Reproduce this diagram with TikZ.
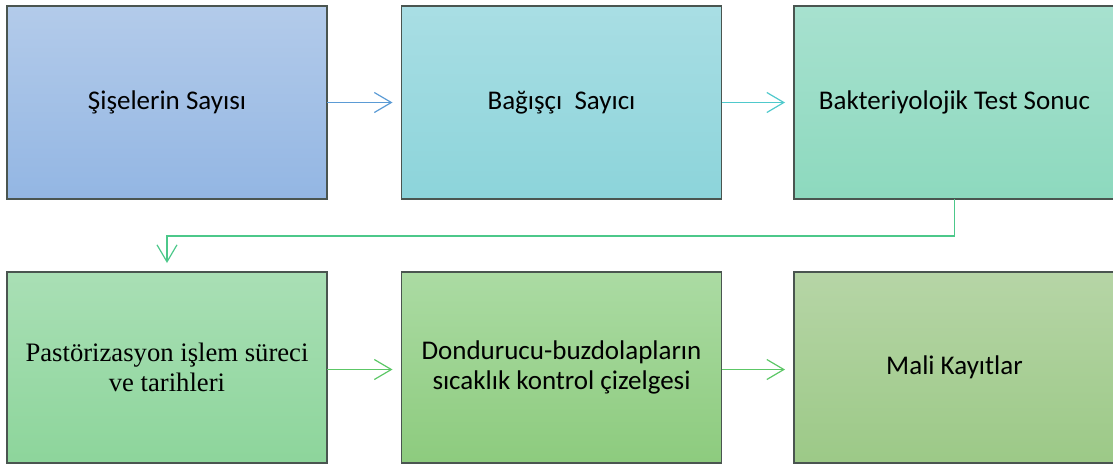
\documentclass[tikz,border=0pt]{standalone}
\usepackage{fontspec}
\setmainfont{Carlito}
\newfontfamily\timesf{Liberation Serif}
\usetikzlibrary{arrows.meta,shadings}
\definecolor{t1}{HTML}{B3CBEA}\definecolor{u1}{HTML}{93B6E3}
\definecolor{t2}{HTML}{A9DEE4}\definecolor{u2}{HTML}{8CD4DA}
\definecolor{t3}{HTML}{A7E1CF}\definecolor{u3}{HTML}{8DD9BE}
\definecolor{t4}{HTML}{A9DFB5}\definecolor{u4}{HTML}{8DD59B}
\definecolor{t5}{HTML}{ABDBA3}\definecolor{u5}{HTML}{8DCB7E}
\definecolor{t6}{HTML}{B6D5A6}\definecolor{u6}{HTML}{9CC987}
\definecolor{a1}{HTML}{5B9BD5}\definecolor{a2}{HTML}{4FC9CC}
\definecolor{a3}{HTML}{4CC88A}\definecolor{a4}{HTML}{5CC766}
\definecolor{bd}{HTML}{4A5550}
\begin{document}
\begin{tikzpicture}[x=0.75pt,y=-0.75pt,
  box/.style={draw=bd,line width=0.8pt,inner sep=0pt,outer sep=0pt,
    minimum width=240pt,align=center,
    font=\fontsize{20.25pt}{22.5pt}\selectfont},
  toprow/.style={box,minimum height=144.75pt},
  botrow/.style={box,minimum height=143.25pt},
  arr/.style={line width=0.9pt,-{Straight Barb[length=12.75pt,width=15pt]},shorten >=6.75pt}]
\useasboundingbox (0,0) rectangle (1113,465);
\node[toprow,top color=t1,bottom color=u1] (b1) at (167,102.5) {Şişelerin Sayısı};
\node[toprow,top color=t2,bottom color=u2] (b2) at (561.5,102.5) {Bağışçı\ \ Sayıcı};
\node[toprow,top color=t3,bottom color=u3,minimum width=240.75pt] (b3) at (954.5,102.5) {Bakteriyolojik Test Sonuc};
\node[botrow,top color=t4,bottom color=u4,font=\timesf\fontsize{20pt}{22.5pt}\selectfont] (b4) at (167,367.5) {Pastörizasyon işlem süreci\\ve tarihleri};
\node[botrow,top color=t5,bottom color=u5] (b5) at (561.5,367.5) {Dondurucu-buzdolapların\\sıcaklık kontrol çizelgesi};
\node[botrow,top color=t6,bottom color=u6,minimum width=240.75pt] (b6) at (954.5,367.5) {Mali Kayıtlar};
\draw[arr,a1] (b1.east) -- (b2.west);
\draw[arr,a2] (b2.east) -- (b3.west);
\coordinate (m) at (0,236);
\draw[arr,a3] (b3.south) |- (b3.south |- m) -| (b4.north);
\draw[arr,a4] ([yshift=-1.5pt]b4.east) -- ([yshift=-1.5pt]b5.west);
\draw[arr,a4] ([yshift=-1.5pt]b5.east) -- ([yshift=-1.5pt]b6.west);
\end{tikzpicture}
\end{document}
